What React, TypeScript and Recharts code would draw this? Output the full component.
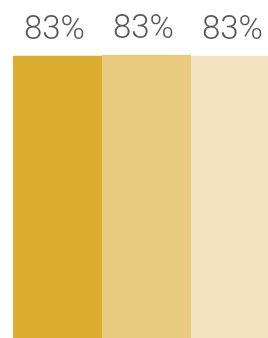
import React from "react";
import { BarChart, Bar, XAxis, YAxis, Cell, LabelList } from "recharts";

const categories = ["A", "B", "C"];
const values = [82.8, 83.1, 82.8];
const labels = ["83%", "83%", "83%"];
const colors = ["#DCAC2D", "#E8CB7E", "#F2E2BD"];

const data = categories.map((c, i) => ({ name: c, value: values[i], label: labels[i] }));

export default function App() {
  return (
    <div style={{ position: "fixed", left: 0, top: 0, width: 268, height: 338, overflow: "hidden" }}>
      <BarChart
        width={280}
        height={360}
        data={data}
        margin={{ top: 0, right: 0, bottom: 0, left: 13 }}
        barCategoryGap={0}
      >
        <XAxis dataKey="name" hide />
        <YAxis hide domain={[0, 98]} />
        <Bar dataKey="value" isAnimationActive={false}>
          {data.map((d, i) => (
            <Cell key={d.name} fill={colors[i]} />
          ))}
          <LabelList
            dataKey="label"
            position="top"
            offset={17}
            dx={-3}
            fill="#595959"
            style={{ fontFamily: "Roboto", fontWeight: 300, fontSize: 33 }}
          />
        </Bar>
      </BarChart>
    </div>
  );
}
